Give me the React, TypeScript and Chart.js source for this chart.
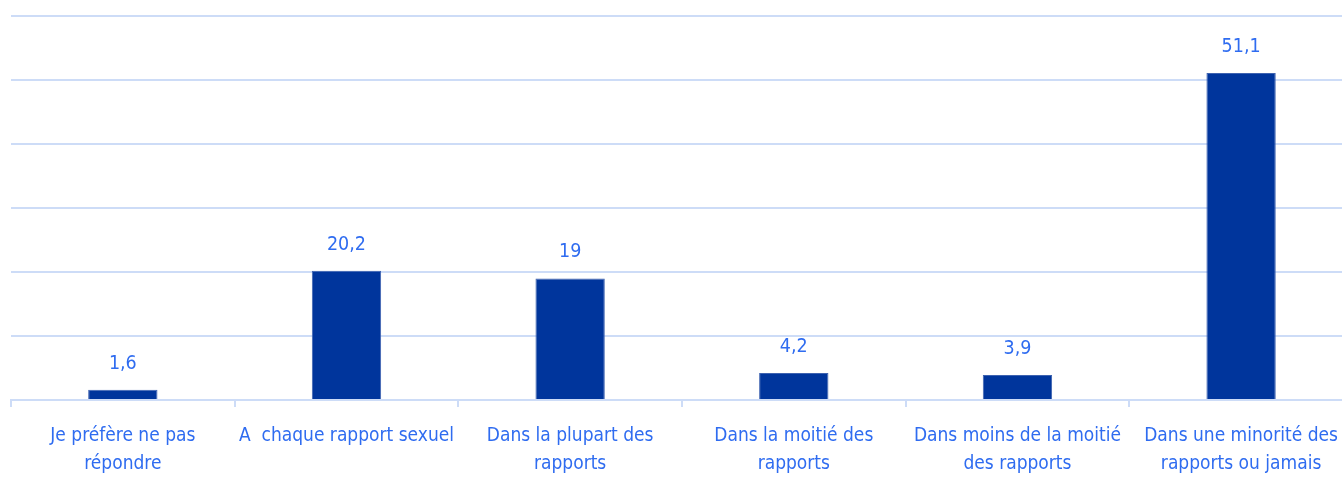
import React, { useEffect, useRef } from "react";
import { Chart, registerables } from "chart.js";

Chart.register(...registerables);

const categories: string[][] = [
  ["Je préfère ne pas", "répondre"],
  ["A  chaque rapport sexuel"],
  ["Dans la plupart des", "rapports"],
  ["Dans la moitié des", "rapports"],
  ["Dans moins de la moitié", "des rapports"],
  ["Dans une minorité des", "rapports ou jamais"],
];
const values: number[] = [1.6, 20.2, 19, 4.2, 3.9, 51.1];
const yTicks: number[] = [0, 10, 20, 30, 40, 50, 60];

const FONT = "'Liberation Sans Narrow', 'DejaVu Sans Condensed', 'Roboto', sans-serif";
const TEXT = "#2f6cf0";
const GRID = "#cddcf7";
const BAR = "#00359c";

const valueLabels = {
  id: "valueLabels",
  afterDatasetsDraw(chart: any) {
    const ctx = chart.ctx;
    const meta = chart.getDatasetMeta(0);
    ctx.save();
    ctx.fillStyle = TEXT;
    ctx.font = `19.5px ${FONT}`;
    ctx.textAlign = "center";
    ctx.textBaseline = "alphabetic";
    meta.data.forEach((el: any, i: number) => {
      const txt = String(values[i]).replace(".", ",");
      ctx.fillText(txt, el.x, el.y - 21);
    });
    ctx.restore();
  },
};

export default function App() {
  const ref = useRef<HTMLCanvasElement | null>(null);
  useEffect(() => {
    const canvas = ref.current!;
    const chart = new Chart(canvas, {
      type: "bar",
      data: {
        labels: categories,
        datasets: [
          {
            data: values,
            backgroundColor: BAR,
            borderColor: "#3d62b0",
            borderWidth: 1,
            categoryPercentage: 1,
            barPercentage: 0.31,
          },
        ],
      },
      options: {
        animation: false,
        responsive: false,
        devicePixelRatio: 1,
        layout: { padding: { left: 3, right: 0, top: 8, bottom: 0 } },
        plugins: {
          legend: { display: false },
          tooltip: { enabled: false },
        },
        scales: {
          x: {
            afterFit: (axis: any) => {
              axis.height = 78;
            },
            grid: {
              display: true,
              drawOnChartArea: false,
              drawTicks: true,
              tickLength: 7,
              color: GRID,
              lineWidth: 2,
              offset: true,
            },
            border: { display: true, color: GRID, width: 2 },
            ticks: {
              color: TEXT,
              font: { family: FONT, size: 19, lineHeight: "28px" },
              padding: 15,
              maxRotation: 0,
              autoSkip: false,
            },
          },
          y: {
            min: 0,
            max: 60,
            afterBuildTicks: (axis: any) => {
              axis.ticks = yTicks.map((v) => ({ value: v }));
            },
            ticks: { display: false },
            grid: { color: GRID, lineWidth: 2, drawTicks: false },
            border: { display: false },
          },
        },
      },
      plugins: [valueLabels],
    });
    return () => chart.destroy();
  }, []);
  return (
    <div
      style={{
        position: "fixed",
        left: 0,
        top: 0,
        width: "100vw",
        height: "100vh",
        overflow: "hidden",
        background: "#ffffff",
      }}
    >
      <canvas
        ref={ref}
        width={1345}
        height={470}
        style={{ display: "block", width: 1345, height: 470, marginLeft: 8, marginTop: 8 }}
      />
    </div>
  );
}
